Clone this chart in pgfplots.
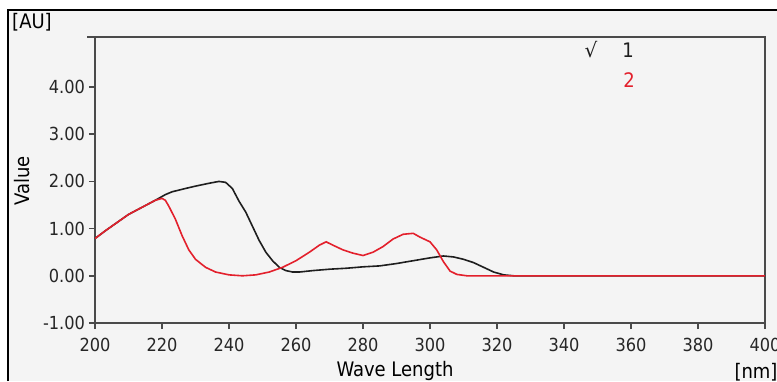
\documentclass[border=0pt]{standalone}
\usepackage{pgfplots}
\pgfplotsset{compat=1.18}
\usepackage{fontspec}
\setmainfont{DejaVu Sans Condensed}
\newfontfamily\symfont{DejaVu Sans}
\definecolor{bgc}{HTML}{F4F4F4}
\definecolor{axc}{HTML}{4A4A4A}
\definecolor{redc}{HTML}{E3202C}
\definecolor{blkc}{HTML}{1E1E1E}
\begin{document}
\begin{tikzpicture}[x=0.5pt,y=0.5pt]
\path[use as bounding box] (0,0) rectangle (777,381);
\fill[white] (0,0) rectangle (777,381);
\fill[bgc] (8,0) rectangle (777,371);
\draw[black,line width=0.6pt] (8,0) -- (8,371) -- (777,371);
\begin{axis}[
  at={(47.5pt,29pt)}, anchor=south west,
  scale only axis, width=335pt, height=143pt,
  xmin=200, xmax=400, ymin=-1, ymax=5.06,
  xtick={200,220,...,400}, ytick={-1,0,1,2,3,4},
  axis line style={axc,line width=1pt},
  tick style={axc,line width=0.8pt},
  tick align=outside, major tick length=3pt,
  xtick pos=bottom, ytick pos=left,
  tick label style={font=\fontsize{9}{10}\selectfont, text=black!85},
  yticklabel style={xshift=1.5pt},
  xticklabel style={yshift=-1pt},
  /pgf/number format/assume math mode=true,
  y tick label style={/pgf/number format/.cd, fixed, fixed zerofill, precision=2},
  x tick label style={/pgf/number format/.cd, fixed, precision=0, 1000 sep={}},
  clip=true,
]
\addplot[blkc, line width=0.8pt] coordinates {
(200,0.79)(203,0.95)(206,1.1)(210,1.3)(214,1.45)(218,1.6)(221,1.72)(223,1.78)
(227,1.85)(230,1.9)(234,1.96)(237,2.0)(239,1.98)(241,1.85)(243,1.58)(245,1.35)
(247,1.05)(249,0.75)(251,0.5)(253,0.32)(255,0.18)(257,0.11)(259,0.08)(261,0.08)
(265,0.11)(270,0.14)(275,0.16)(280,0.19)(285,0.21)(290,0.26)(295,0.32)(300,0.38)
(304,0.42)(307,0.40)(310,0.35)(313,0.28)(316,0.18)(319,0.08)(322,0.02)(325,0.0)(400,0.0)
};
\addplot[redc, line width=0.8pt] coordinates {
(200,0.79)(203,0.95)(206,1.1)(210,1.3)(214,1.45)(218,1.6)(220,1.64)(221,1.6)
(222,1.48)(224,1.2)(226,0.85)(228,0.55)(230,0.35)(233,0.18)(236,0.08)(240,0.02)
(244,0.0)(248,0.02)(252,0.08)(256,0.18)(260,0.32)(264,0.5)(267,0.65)(269,0.72)
(271,0.65)(274,0.55)(277,0.48)(280,0.43)(283,0.5)(286,0.62)(289,0.78)(292,0.88)
(295,0.9)(297,0.82)(300,0.72)(302,0.55)(304,0.3)(306,0.1)(308,0.03)(311,0.0)(400,0.0)
};
\end{axis}
\draw[axc,line width=1pt] (87,344) -- (95,344);
\node[font=\fontsize{10}{11}\selectfont, anchor=center] at (32,359) {[AU]};
\node[font=\fontsize{10}{11}\selectfont, rotate=90, anchor=center] at (22,200) {Value};
\node[font=\fontsize{10}{11}\selectfont, anchor=center] at (395,10) {Wave Length};
\node[font=\fontsize{10}{11}\selectfont, anchor=center] at (756,9) {[nm]};
\node[font=\fontsize{10}{11}\selectfont\symfont, anchor=center, text=blkc] at (591,331) {√};
\node[font=\fontsize{10}{11}\selectfont, anchor=center, text=blkc] at (628,331) {1};
\node[font=\fontsize{10}{11}\selectfont, anchor=center, text=redc] at (629,301) {2};
\end{tikzpicture}
\end{document}
